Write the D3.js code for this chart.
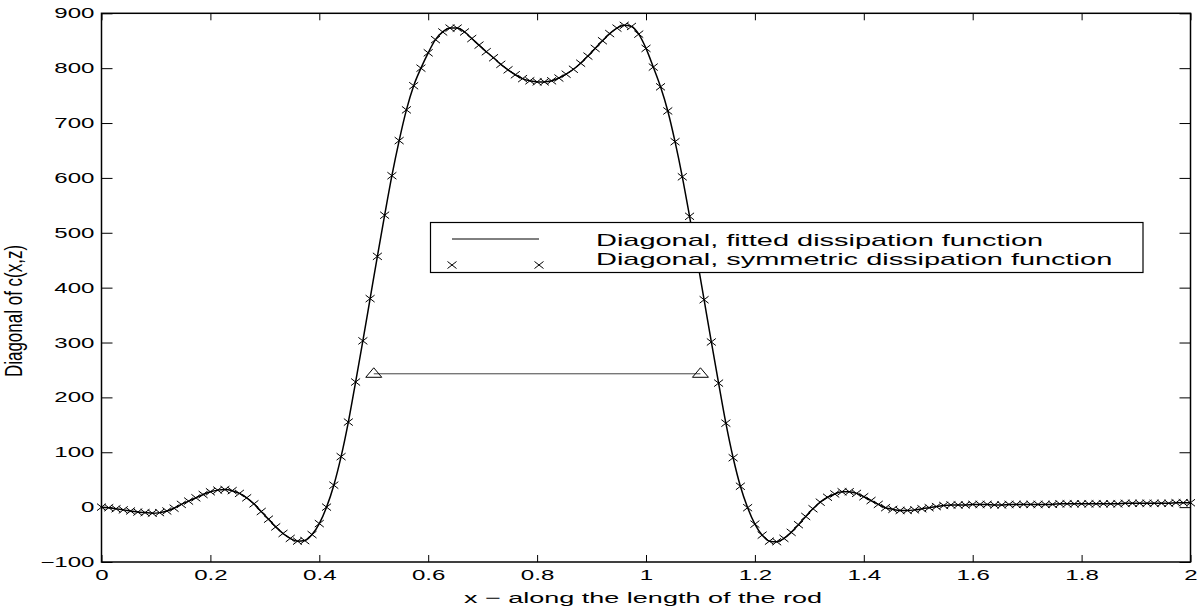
<!DOCTYPE html>
<html>
<head>
<meta charset="utf-8">
<script src="https://cdn.jsdelivr.net/npm/d3@7"></script>
<style>
  body { margin: 0; background: #fff; }
  svg { display: block; }
  text { font-family: 'Liberation Sans', Arial, sans-serif; fill: #000; }
</style>
</head>
<body>
<div id="chart"></div>
<script>
let fittedValues = [
  0, -1, -3, -5, -7, -9, -10, -11, -10, -7,
  -2, 5, 11, 17, 23, 28, 31, 32, 30, 25,
  17, 6, -8, -22, -36, -48, -57, -62, -61, -50,
  -30, 0, 40, 92, 155, 228, 303, 380, 457, 532,
  604, 668, 724, 768, 800, 828, 852, 866, 873, 873,
  866, 854, 842, 830, 819, 807, 797, 788, 781, 777,
  775, 775, 777, 782, 789, 798, 809, 822, 836, 850,
  863, 873, 878, 876, 862, 836, 802, 766, 722, 666,
  602, 530, 455, 378, 301, 226, 153, 90, 38, -1,
  -31, -51, -62, -63, -57, -46, -32, -17, -3, 9,
  18, 24, 28, 28, 25, 19, 12, 5, -1, -4,
  -6, -6, -5, -3, -1, 1, 3, 4,
  4, 4, 5, 5, 5, 4, 4, 5, 5, 5, 5, 5, 5, 5, 6, 6, 6,
  6, 6, 6, 6, 6, 6, 7, 7, 7, 7, 7, 7, 7, 8, 8, 8
]
// symmetric dissipation function coincides with the fitted one at this resolution
let symmetricValues = fittedValues.slice()

let xTicks = [0, 0.2, 0.4, 0.6, 0.8, 1, 1.2, 1.4, 1.6, 1.8, 2]
let xTickLabels = ['0', '0.2', '0.4', '0.6', '0.8', '1', '1.2', '1.4', '1.6', '1.8', '2']
let yTicks = [-100, 0, 100, 200, 300, 400, 500, 600, 700, 800, 900]

let halfWidthX = [0.5, 1.1]
let halfWidthLevel = 243

let legendLabels = [
  'Diagonal, fitted dissipation function',
  'Diagonal, symmetric dissipation function'
]

let xStep = 2 / 150
let fitted = fittedValues.map((v, i) => ({ x: i * xStep, y: v }))
let symmetric = symmetricValues.map((v, i) => ({ x: i * xStep, y: v }))

let width = 1202
let height = 609
let stretch = 1.72 // the original figure is widened horizontally

let svg = d3
  .select('#chart')
  .append('svg')
  .attr('width', width)
  .attr('height', height)

let xPositionScale = d3.scaleLinear().domain([0, 2]).range([101.5, 1190.5])
let yPositionScale = d3.scaleLinear().domain([-100, 900]).range([562, 13.3])

function widen(sel, sx) {
  sel.each(function() {
    let t = d3.select(this)
    let x = +t.attr('x') || 0
    let y = +t.attr('y') || 0
    t.attr('transform', `translate(${x},${y}) scale(${sx},1) translate(${-x},${-y})`)
  })
}

// axes
let xAxis = d3
  .axisBottom(xPositionScale)
  .tickValues(xTicks)
  .tickFormat((d, i) => xTickLabels[i])
  .tickSizeInner(-7)
  .tickSizeOuter(0)
  .tickPadding(8)
let xAxisTop = d3
  .axisTop(xPositionScale)
  .tickValues(xTicks)
  .tickFormat('')
  .tickSizeInner(-7)
  .tickSizeOuter(0)
let yAxis = d3
  .axisLeft(yPositionScale)
  .tickValues(yTicks)
  .tickSizeInner(-11)
  .tickSizeOuter(0)
  .tickPadding(7)
let yAxisRight = d3
  .axisRight(yPositionScale)
  .tickValues(yTicks)
  .tickFormat('')
  .tickSizeInner(-11)
  .tickSizeOuter(0)

let gx = svg
  .append('g')
  .attr('class', 'axis x-axis')
  .attr('transform', `translate(0,${yPositionScale(-100)})`)
  .call(xAxis)
svg
  .append('g')
  .attr('transform', `translate(0,${yPositionScale(900)})`)
  .call(xAxisTop)
let gy = svg
  .append('g')
  .attr('class', 'axis y-axis')
  .attr('transform', `translate(${xPositionScale(0)},0)`)
  .call(yAxis)
svg
  .append('g')
  .attr('transform', `translate(${xPositionScale(2)},0)`)
  .call(yAxisRight)

svg.selectAll('.tick line').attr('stroke', '#000').attr('stroke-width', 1)
svg.selectAll('.domain').remove()
svg
  .selectAll('.tick text')
  .attr('font-size', 14)
  .attr('font-family', "'Liberation Sans', Arial, sans-serif")
  .attr('fill', '#000')
widen(gx.selectAll('.tick text'), stretch)
widen(gy.selectAll('.tick text'), stretch)

// frame
svg
  .append('rect')
  .attr('x', xPositionScale(0))
  .attr('y', yPositionScale(900))
  .attr('width', xPositionScale(2) - xPositionScale(0))
  .attr('height', yPositionScale(-100) - yPositionScale(900))
  .attr('fill', 'none')
  .attr('stroke', '#000')
  .attr('stroke-width', 1.5)

// fitted line
let line = d3
  .line()
  .x(d => xPositionScale(d.x))
  .y(d => yPositionScale(d.y))
  .curve(d3.curveMonotoneX)

svg
  .append('path')
  .datum(fitted)
  .attr('d', line)
  .attr('fill', 'none')
  .attr('stroke', '#000')
  .attr('stroke-width', 1.5)

// symmetric markers
let cross = 'M-4.5,-3.5L4.5,3.5M-4.5,3.5L4.5,-3.5'
svg
  .selectAll('.sym-marker')
  .data(symmetric)
  .enter()
  .append('path')
  .attr('class', 'sym-marker')
  .attr('transform', d => `translate(${xPositionScale(d.x)},${yPositionScale(d.y)})`)
  .attr('d', cross)
  .attr('fill', 'none')
  .attr('stroke', '#000')
  .attr('stroke-width', 1)

// half width line with triangles
svg
  .append('line')
  .attr('x1', xPositionScale(halfWidthX[0]))
  .attr('x2', xPositionScale(halfWidthX[1]))
  .attr('y1', yPositionScale(halfWidthLevel))
  .attr('y2', yPositionScale(halfWidthLevel))
  .attr('stroke', '#444')
  .attr('stroke-width', 1)

svg
  .selectAll('.half-tri')
  .data(halfWidthX)
  .enter()
  .append('path')
  .attr('class', 'half-tri')
  .attr('transform', d => `translate(${xPositionScale(d)},${yPositionScale(halfWidthLevel)})`)
  .attr('d', 'M0,-6L8,3.5L-8,3.5Z')
  .attr('fill', 'none')
  .attr('stroke', '#000')
  .attr('stroke-width', 1)

// legend
let legend = svg.append('g').attr('class', 'legend')
legend
  .append('rect')
  .attr('x', 430.5)
  .attr('y', 222.5)
  .attr('width', 712.5)
  .attr('height', 50)
  .attr('fill', '#fff')
  .attr('stroke', '#000')
  .attr('stroke-width', 1.2)
legend
  .append('line')
  .attr('x1', 452)
  .attr('x2', 539)
  .attr('y1', 239)
  .attr('y2', 239)
  .attr('stroke', '#000')
  .attr('stroke-width', 1)
legend
  .selectAll('.legend-marker')
  .data([452, 539])
  .enter()
  .append('path')
  .attr('class', 'legend-marker')
  .attr('transform', d => `translate(${d},265)`)
  .attr('d', cross)
  .attr('fill', 'none')
  .attr('stroke', '#000')
  .attr('stroke-width', 1)
let legendText = legend
  .selectAll('.legend-text')
  .data(legendLabels)
  .enter()
  .append('text')
  .attr('class', 'legend-text')
  .attr('x', 596)
  .attr('y', (d, i) => 246.5 + i * 18.5)
  .attr('font-size', 16)
  .text(d => d)
widen(legendText, 1.81)

// axis titles
let xTitle = svg
  .append('text')
  .attr('x', 643)
  .attr('y', 603)
  .attr('text-anchor', 'middle')
  .attr('font-size', 15)
  .text('x \u2212 along the length of the rod')
widen(xTitle, 1.8)

svg
  .append('text')
  .attr('text-anchor', 'middle')
  .attr('font-size', 17)
  .attr('transform', `translate(22,311) scale(1.4,1) rotate(-90)`)
  .text('Diagonal of c(x,z)')
</script>
</body>
</html>
